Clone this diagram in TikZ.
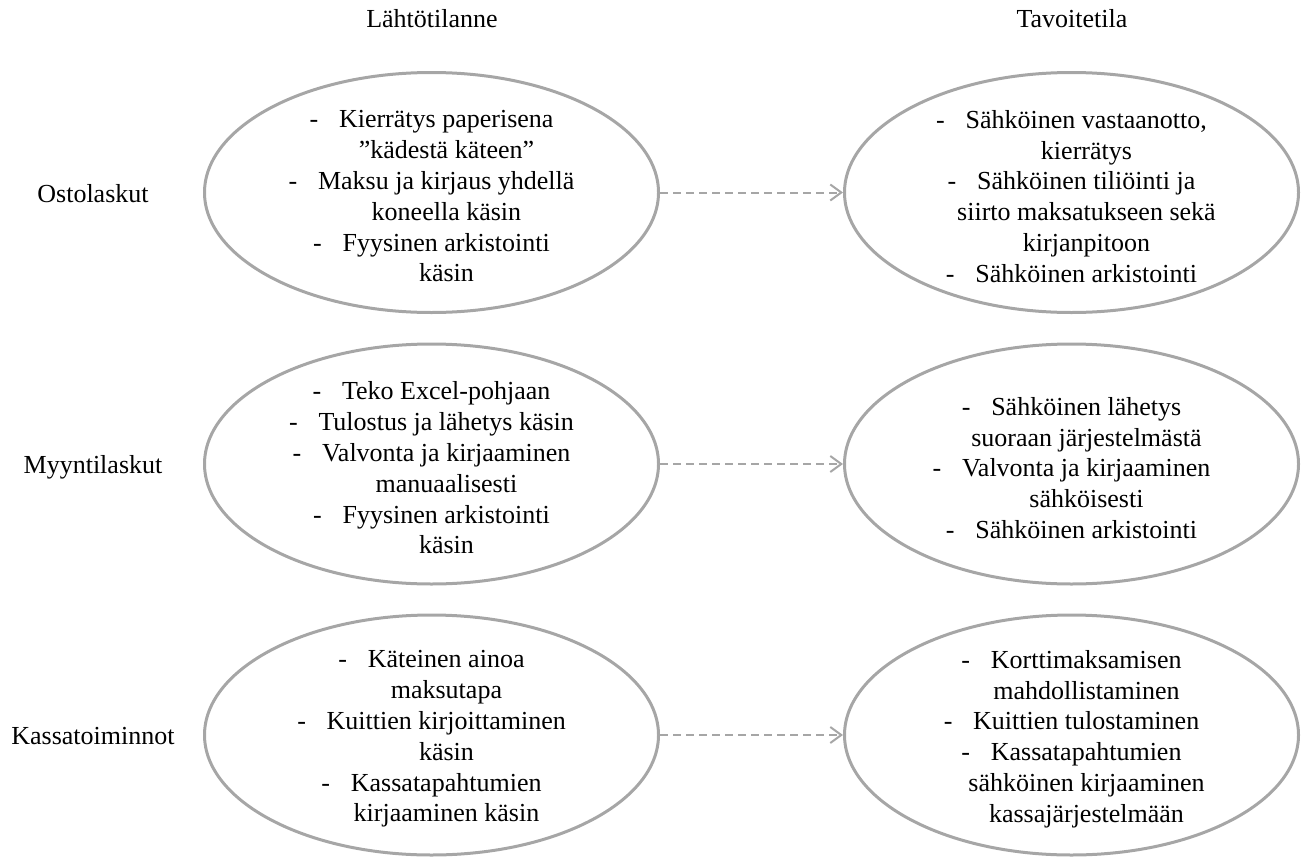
\documentclass[tikz,border=0pt]{standalone}
\usepackage{fontspec}
\setmainfont{Liberation Serif}
\usepackage{xcolor}
\usetikzlibrary{arrows.meta,positioning,shapes.geometric}
\definecolor{kaari}{RGB}{166,166,166}
\newcommand{\kohta}[1]{-\hspace{0.8em}#1}
\newcommand{\jatko}[1]{\hspace*{1.15em}#1}

\begin{document}
\begin{tikzpicture}[
  x=1pt, y=-1pt,
  font=\fontsize{26}{30.8}\selectfont,
  kupla/.style={draw=kaari, line width=3pt, ellipse, minimum width=454pt,
                minimum height=240pt, inner sep=0pt},
  teksti/.style={align=center, inner sep=0pt},
  rivi/.style={anchor=base},
  nuoli/.style={draw=kaari, line width=2pt, dash pattern=on 8pt off 5pt,
                -{Straight Barb[length=11pt,width=16pt]}}
]
\useasboundingbox (0,0) rectangle (1307,857);

\node (lahto) at (432,19) {Lähtötilanne};
\node (tavoite) at (1072,19) {Tavoitetila};

\node[rivi] (osto) at (93,202) {Ostolaskut};
\node[rivi] (myynti) at (93,473) {Myyntilaskut};
\node[rivi] (kassa) at (93,744) {Kassatoiminnot};

\node[kupla] (vasen1) at (431.5,192.5) {};
\node[kupla] (vasen2) at (431.5,464) {};
\node[kupla] (vasen3) at (431.5,735) {};
\node[kupla, right=183pt of vasen1] (oikea1) {};
\node[kupla, right=183pt of vasen2] (oikea2) {};
\node[kupla, right=183pt of vasen3] (oikea3) {};

\node[teksti] (vasen1t) at ([yshift=-4pt]vasen1) {\kohta{Kierrätys paperisena}\\\jatko{”kädestä käteen”}\\
  \kohta{Maksu ja kirjaus yhdellä}\\\jatko{koneella käsin}\\
  \kohta{Fyysinen arkistointi}\\\jatko{käsin}};
\node[teksti] (oikea1t) at ([yshift=-4pt]oikea1) {\kohta{Sähköinen vastaanotto,}\\\jatko{kierrätys}\\
  \kohta{Sähköinen tiliöinti ja}\\\jatko{siirto maksatukseen sekä}\\\jatko{kirjanpitoon}\\
  \kohta{Sähköinen arkistointi}};
\node[teksti] (vasen2t) at ([yshift=-4pt]vasen2) {\kohta{Teko Excel-pohjaan}\\
  \kohta{Tulostus ja lähetys käsin}\\
  \kohta{Valvonta ja kirjaaminen}\\\jatko{manuaalisesti}\\
  \kohta{Fyysinen arkistointi}\\\jatko{käsin}};
\node[teksti] (oikea2t) at ([yshift=-4pt]oikea2) {\kohta{Sähköinen lähetys}\\\jatko{suoraan järjestelmästä}\\
  \kohta{Valvonta ja kirjaaminen}\\\jatko{sähköisesti}\\
  \kohta{Sähköinen arkistointi}};
\node[teksti] (vasen3t) at ([yshift=-4pt]vasen3) {\kohta{Käteinen ainoa}\\\jatko{maksutapa}\\
  \kohta{Kuittien kirjoittaminen}\\\jatko{käsin}\\
  \kohta{Kassatapahtumien}\\\jatko{kirjaaminen käsin}};
\node[teksti] (oikea3t) at ([yshift=-4pt]oikea3) {\kohta{Korttimaksamisen}\\\jatko{mahdollistaminen}\\
  \kohta{Kuittien tulostaminen}\\
  \kohta{Kassatapahtumien}\\\jatko{sähköinen kirjaaminen}\\\jatko{kassajärjestelmään}};

\draw[nuoli] (vasen1)--(oikea1); \draw[nuoli] (vasen2)--(oikea2);
\draw[nuoli] (vasen3)--(oikea3);
\end{tikzpicture}
\end{document}
